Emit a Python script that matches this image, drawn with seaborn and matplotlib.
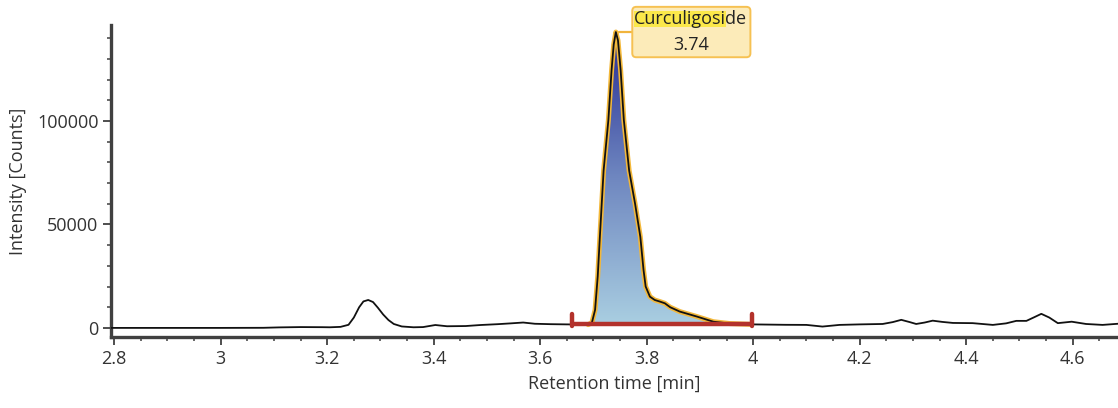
import numpy as np
import pandas as pd
import matplotlib
matplotlib.use("Agg")
import matplotlib.pyplot as plt
import seaborn as sns
from matplotlib.colors import LinearSegmentedColormap
from matplotlib.patches import FancyBboxPatch, Rectangle
from matplotlib.lines import Line2D
from matplotlib.transforms import IdentityTransform

# ---------------- data ----------------
time_min = [2.79, 2.90, 3.00, 3.08, 3.11, 3.15, 3.19, 3.205, 3.225, 3.24, 3.25, 3.26, 3.268,
            3.277, 3.286, 3.295, 3.305, 3.315, 3.325, 3.34, 3.362, 3.38, 3.403, 3.425,
            3.46, 3.488, 3.52, 3.545, 3.568, 3.59, 3.62, 3.65, 3.69, 3.697, 3.703, 3.708,
            3.712, 3.719, 3.728, 3.734, 3.738, 3.742, 3.746, 3.751, 3.757, 3.767, 3.778,
            3.788, 3.794, 3.798, 3.806, 3.815, 3.825, 3.834, 3.844, 3.862, 3.894, 3.925,
            3.956, 3.997, 4.06, 4.10, 4.13, 4.162, 4.20, 4.243, 4.262, 4.278, 4.294, 4.306,
            4.322, 4.337, 4.355, 4.375, 4.412, 4.45, 4.475, 4.494, 4.513, 4.528, 4.541,
            4.556, 4.572, 4.598, 4.625, 4.656, 4.69]
intensity = [0, 0, 0, 50, 250, 400, 350, 300, 500, 1500, 5000, 10000, 12800,
             13500, 12500, 9800, 6500, 3800, 1900, 700, 300, 400, 1400, 800,
             900, 1400, 1800, 2200, 2600, 2000, 1800, 1700, 1600, 2500, 8700, 25000,
             44000, 76000, 100500, 124600, 137000, 143000, 139000, 124600, 100500, 76000, 60200,
             44000, 28000, 20000, 15100, 13500, 12700, 11900, 10000, 7900, 5500, 3000,
             2100, 1700, 1500, 1450, 650, 1450, 1700, 1900, 2800, 3900, 2800, 1900,
             2600, 3500, 2900, 2400, 2300, 1450, 2200, 3400, 3400, 5200, 6800,
             5000, 2300, 3000, 1900, 1450, 2100]

peak_name = "Curculigoside"
peak_rt = 3.74
peak_start = 3.659
peak_end = 3.997
peak_baseline = 1700

x_ticks = [2.8, 3.0, 3.2, 3.4, 3.6, 3.8, 4.0, 4.2, 4.4, 4.6]
x_ticklabels = ["2.8", "3", "3.2", "3.4", "3.6", "3.8", "4", "4.2", "4.4", "4.6"]
y_ticks = [0, 50000, 100000]
y_ticklabels = ["0", "50000", "100000"]

df = pd.DataFrame({"t": time_min, "I": intensity})

# ---------------- style ----------------
sns.set_style("ticks")
plt.rcParams["font.family"] = ["Open Sans", "DejaVu Sans"]
txt_col = "#333333"
spine_col = "#404040"
fs = 13

fig = plt.figure(figsize=(11.18, 4.08), dpi=100)
ax = fig.add_axes([0.0993, 0.174, 0.9007, 0.7647])

# gradient filled peak area
t = np.array(time_min)
I = np.array(intensity, dtype=float)
mask = (t >= peak_start) & (t <= peak_end)
tp, Ip = t[mask], I[mask]
poly = ax.fill_between(tp, np.full_like(tp, peak_baseline), np.maximum(Ip, peak_baseline),
                       facecolor="none", edgecolor="none")
cmap = LinearSegmentedColormap.from_list("pk", ["#a9cee1", "#6f87c0", "#262c94"])
grad = np.linspace(0, 1, 256).reshape(-1, 1)
im = ax.imshow(grad, cmap=cmap, origin="lower", aspect="auto",
               extent=(tp.min(), tp.max(), peak_baseline, Ip.max()), zorder=1)
im.set_clip_path(poly.get_paths()[0], transform=ax.transData)

# orange glow around the integrated peak
sns.lineplot(x=tp, y=Ip, ax=ax, color="#f3b83a", linewidth=3.6, zorder=2, sort=False)
# chromatogram trace
sns.lineplot(data=df, x="t", y="I", ax=ax, color="#111111", linewidth=1.3, zorder=3,
             sort=False)

# integration baseline (red)
red = "#b3322c"
ax.plot([peak_start, peak_end], [peak_baseline, peak_baseline], color=red, lw=3.2,
        solid_capstyle="butt", zorder=4)
for xe in (peak_start, peak_end):
    ax.plot([xe, xe], [700, 6800], color=red, lw=3.2, solid_capstyle="round", zorder=4)

# ---------------- axes ----------------
ax.set_xlim(2.794, 4.685)
ax.set_ylim(-4400, 146400)
ax.set_xticks(x_ticks)
ax.set_xticklabels(x_ticklabels)
ax.set_xticks(np.arange(2.85, 4.69, 0.05), minor=True)
ax.set_yticks(y_ticks)
ax.set_yticklabels(y_ticklabels)
ax.set_yticks(np.arange(10000, 146000, 10000), minor=True)

for s in ("top", "right"):
    ax.spines[s].set_visible(False)
for s in ("left", "bottom"):
    ax.spines[s].set_linewidth(2.4)
    ax.spines[s].set_color(spine_col)
ax.tick_params(axis="both", which="major", length=6, width=1.3, color=spine_col,
               labelsize=fs, labelcolor=txt_col, pad=3)
ax.tick_params(axis="both", which="minor", length=3, width=1.1, color=spine_col)

ax.set_xlabel("Retention time [min]", fontsize=fs, color=txt_col, labelpad=5)
ax.set_ylabel("Intensity [Counts]", fontsize=fs, color=txt_col, labelpad=7)

# ---------------- peak label ----------------
peak_idx = int(np.argmax(I))
xy = (time_min[peak_idx], intensity[peak_idx])
t1 = ax.annotate(peak_name, xy=xy, xytext=(54, 9.5), textcoords="offset points",
                 ha="center", va="center", fontsize=fs, color="#222222",
                 annotation_clip=False, zorder=12)
t2 = ax.annotate(f"{peak_rt:.2f}", xy=xy, xytext=(54, -9.5), textcoords="offset points",
                 ha="center", va="center", fontsize=fs, color="#222222",
                 annotation_clip=False, zorder=12)

fig.canvas.draw()
r = fig.canvas.get_renderer()
bb1 = t1.get_window_extent(r)
bb2 = t2.get_window_extent(r)
tmp = ax.text(0, 0, peak_name[:-2], fontsize=fs)
w_part = tmp.get_window_extent(r).width
tmp.remove()

bx0, bx1 = bb1.x0 - 2, bb1.x1 + 3
by0, by1 = bb2.y0 - 3, bb1.y1 + 3
box = FancyBboxPatch((bx0, by0), bx1 - bx0, by1 - by0,
                     boxstyle="round,pad=0,rounding_size=4", fc="#fcebb9", ec="#f6c152",
                     lw=1.4, transform=IdentityTransform(), clip_on=False, zorder=10)
ax.add_artist(box)
hl = Rectangle((bb1.x0, bb1.y0 + 1), w_part, bb1.height - 2, fc="#fbe84a", ec="none",
               transform=IdentityTransform(), clip_on=False, zorder=11)
ax.add_artist(hl)
px, py = ax.transData.transform(xy)
conn = Line2D([px + 3, bx0], [py, py], color="#f1b43c", lw=1.6,
              transform=IdentityTransform(), clip_on=False, zorder=9)
ax.add_artist(conn)

fig.savefig("out.png", dpi=100)
